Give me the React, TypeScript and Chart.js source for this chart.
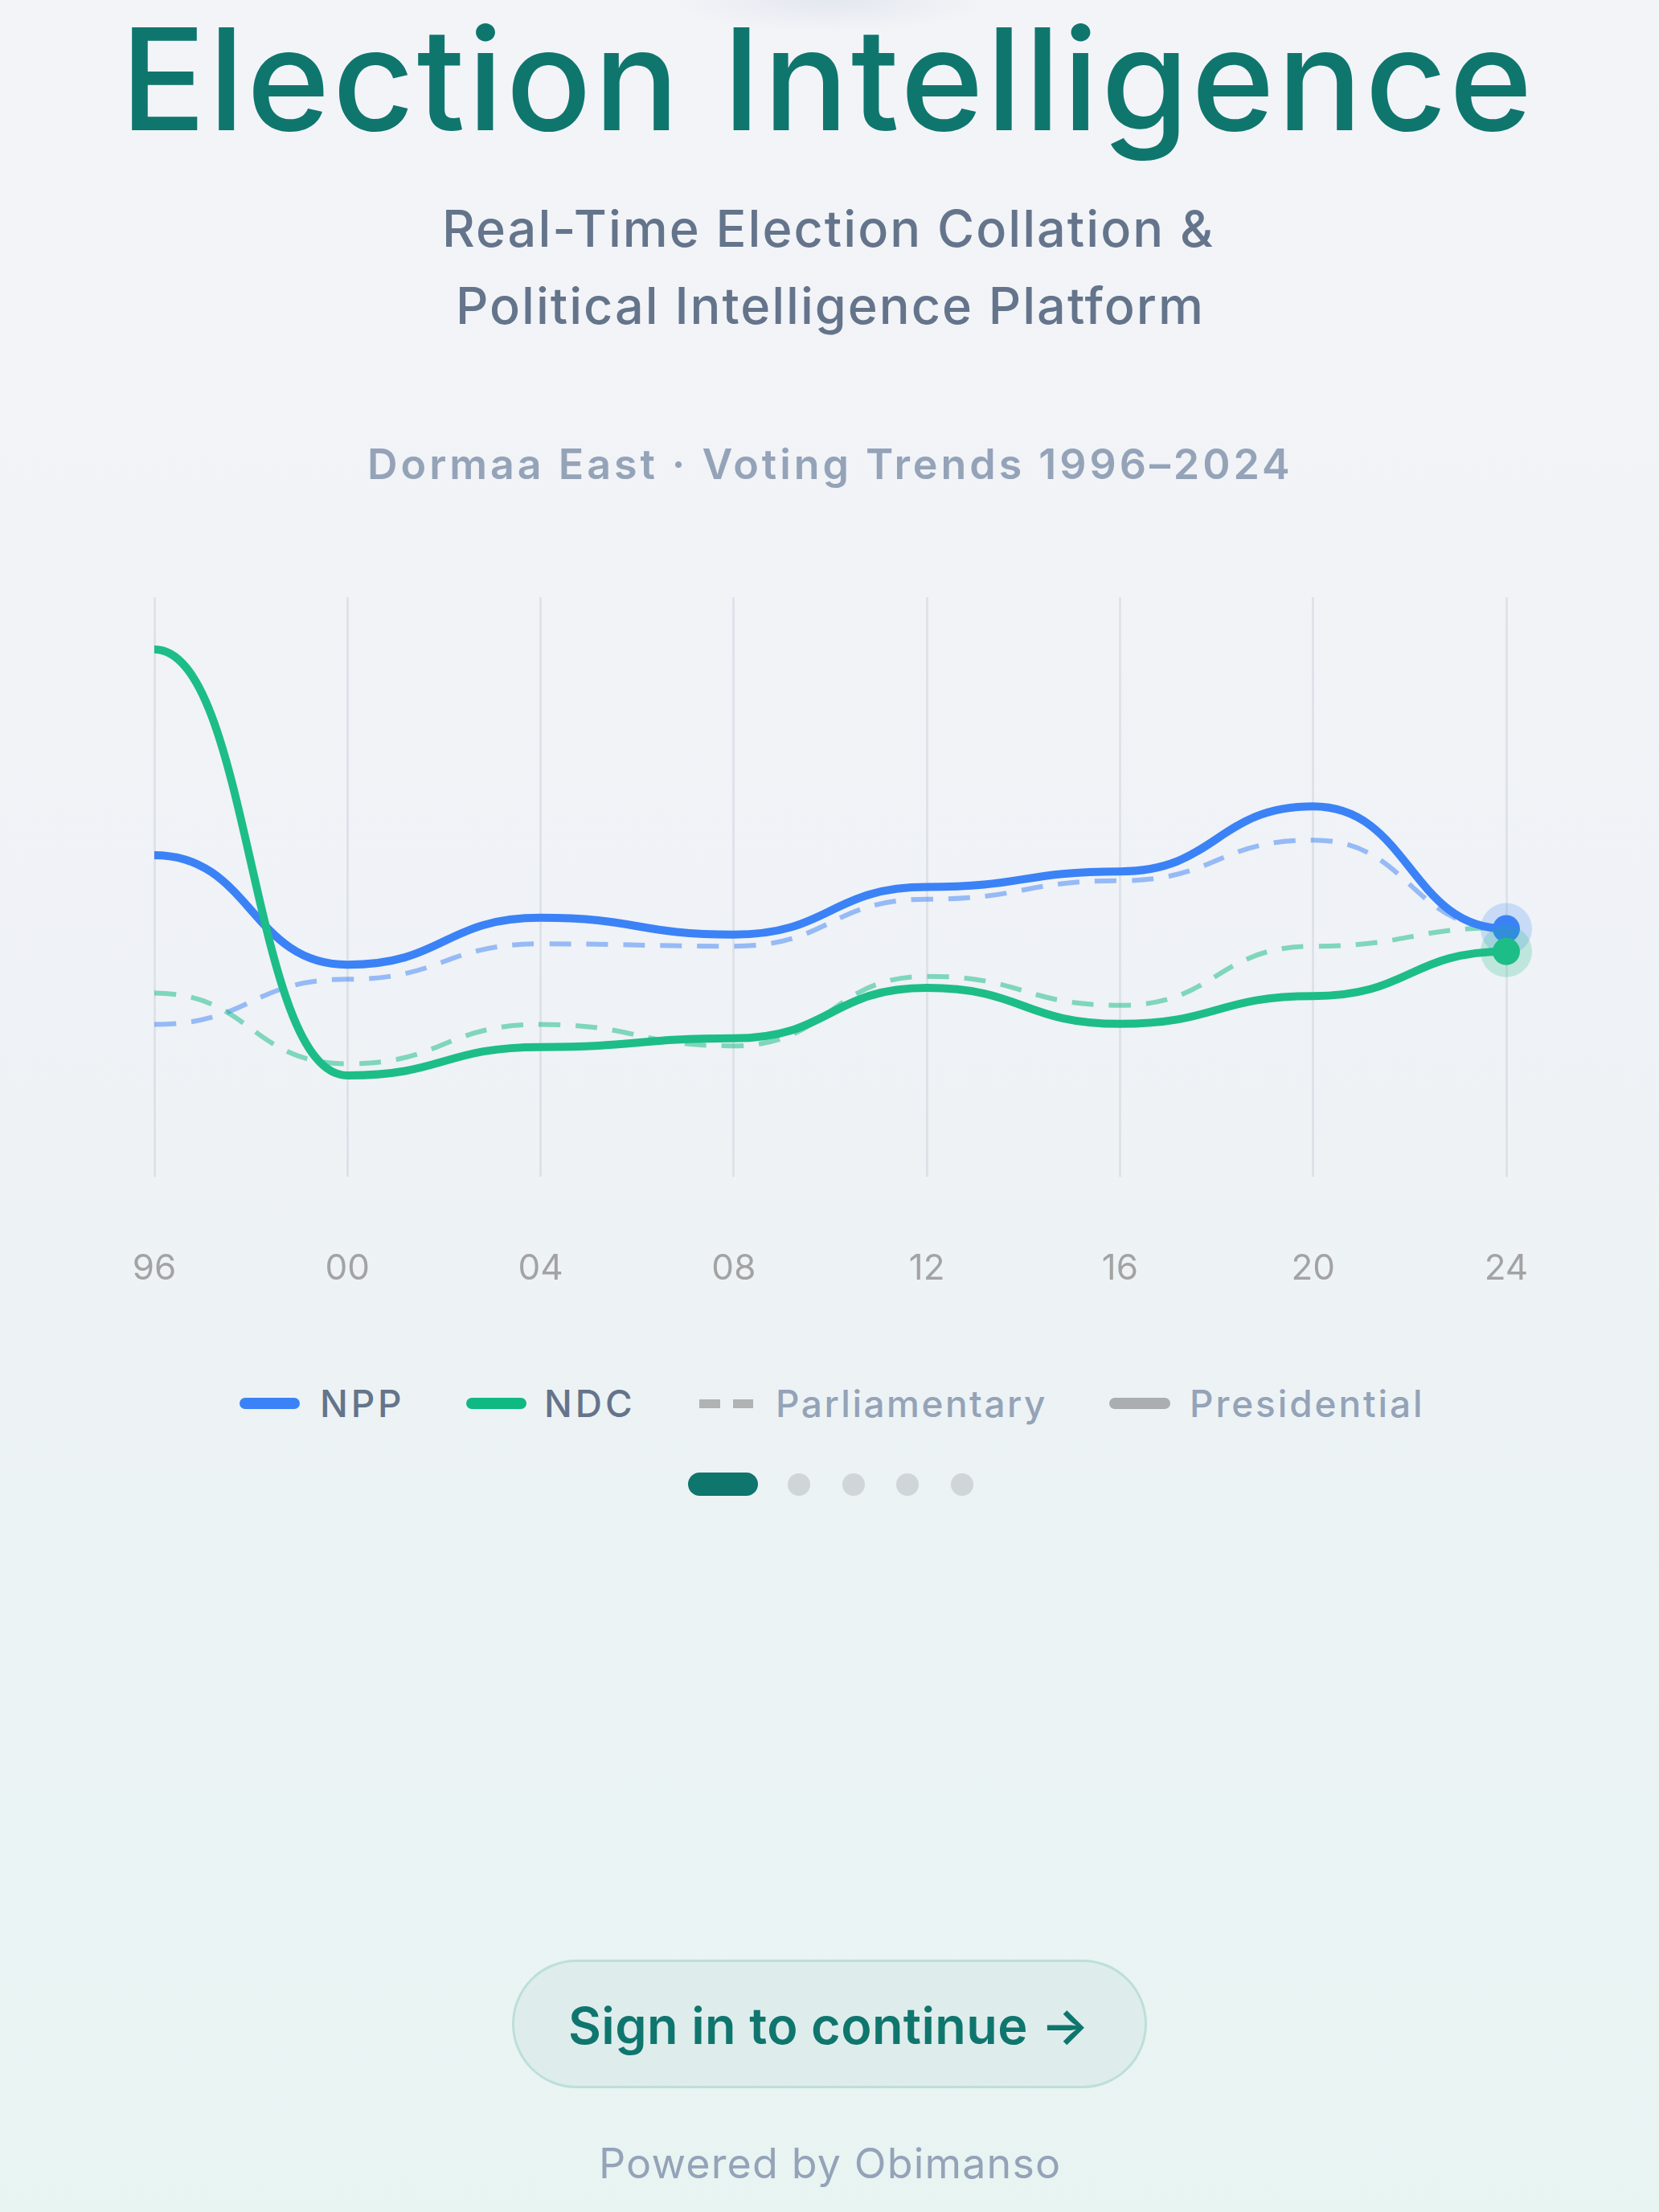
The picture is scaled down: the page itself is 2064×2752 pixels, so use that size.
import React, { useEffect, useLayoutEffect, useRef, useState } from 'react';
import { Chart, registerables } from 'chart.js';

Chart.register(...registerables);

// ---- data (read from the reference) ----
const years = ['96', '00', '04', '08', '12', '16', '20', '24'];
const nppPresidential = [55.5, 36.6, 44.7, 41.8, 50.0, 52.7, 63.9, 42.8];
const ndcPresidential = [91.0, 17.5, 22.4, 23.9, 32.6, 26.4, 31.2, 38.9];
const nppParliamentary = [26.3, 34.1, 40.2, 39.8, 47.9, 51.1, 58.1, 42.8];
const ndcParliamentary = [31.7, 19.5, 26.3, 22.6, 34.6, 29.6, 39.8, 43.0];
const legendLabels = ['NPP', 'NDC', 'Parliamentary', 'Presidential'];

const FONT = 'Inter';

// horizontal tangents at every point (bump-style smoothing)
const bumpPlugin = {
  id: 'bumpCurve',
  beforeDatasetDraw(chart: any, args: any) {
    const meta = args.meta;
    if (!meta || meta.type !== 'line' || !meta.dataset) return;
    const pts = meta.data;
    for (let i = 0; i < pts.length; i++) {
      const p = pts[i];
      const prev = pts[i - 1];
      const next = pts[i + 1];
      p.cp1x = prev ? p.x - (p.x - prev.x) / 2 : p.x;
      p.cp1y = p.y;
      p.cp2x = next ? p.x + (next.x - p.x) / 2 : p.x;
      p.cp2y = p.y;
    }
    meta.dataset._pointsUpdated = true;
    meta.dataset._path = undefined;
  },
};

type TextProps = {
  text: string;
  size: number;
  weight: number;
  color: string;
  left: number;
  right: number;
  baseline: number;
};

function TextAt({ text, size, weight, color, left, right, baseline }: TextProps) {
  const [m, setM] = useState<any>(null);
  useLayoutEffect(() => {
    const ctx = document.createElement('canvas').getContext('2d')!;
    ctx.font = `${weight} ${size}px ${FONT}`;
    const mt = ctx.measureText(text);
    const inkStart = -mt.actualBoundingBoxLeft;
    const inkW = mt.actualBoundingBoxLeft + mt.actualBoundingBoxRight;
    const n = Array.from(text).length;
    const ls = n > 1 ? (right - left - inkW) / (n - 1) : 0;
    setM({
      inkStart,
      ls,
      asc: mt.fontBoundingBoxAscent,
      desc: mt.fontBoundingBoxDescent,
    });
  }, [text, size, weight, left, right]);
  const style: React.CSSProperties = {
    position: 'absolute',
    whiteSpace: 'nowrap',
    fontFamily: FONT,
    fontSize: size,
    fontWeight: weight,
    color,
    lineHeight: `${size}px`,
    visibility: m ? 'visible' : 'hidden',
    left: m ? left - m.inkStart : left,
    top: m ? baseline - ((size - (m.asc + m.desc)) / 2 + m.asc) : baseline - size,
    letterSpacing: m ? m.ls : 0,
  };
  return <div style={style}>{text}</div>;
}

function TrendChart() {
  const ref = useRef<HTMLCanvasElement>(null);
  useEffect(() => {
    const last = years.length - 1;
    const dot = (r: number) => (c: any) => (c.dataIndex === last ? r : 0);
    const chart = new Chart(ref.current!, {
      type: 'line',
      data: {
        labels: years,
        datasets: [
          {
            label: 'NPP Parliamentary',
            data: nppParliamentary,
            borderColor: 'rgba(59,130,246,0.5)',
            borderWidth: 6,
            borderDash: [27, 19],
            pointRadius: 0,
            tension: 0.4,
            fill: false,
            clip: false,
            order: 6,
          },
          {
            label: 'NDC Parliamentary',
            data: ndcParliamentary,
            borderColor: 'rgba(16,185,129,0.5)',
            borderWidth: 6,
            borderDash: [27, 19],
            pointRadius: 0,
            tension: 0.4,
            fill: false,
            clip: false,
            order: 5,
          },
          {
            label: 'NPP halo',
            data: nppPresidential,
            showLine: false,
            pointRadius: dot(32),
            pointBackgroundColor: 'rgba(59,130,246,0.22)',
            pointBorderWidth: 0,
            clip: false,
            order: 4,
          },
          {
            label: 'NPP',
            data: nppPresidential,
            borderColor: '#3b82f6',
            borderWidth: 10,
            pointRadius: dot(17),
            pointBackgroundColor: '#3b82f6',
            pointBorderWidth: 0,
            tension: 0.4,
            fill: false,
            clip: false,
            order: 3,
          },
          {
            label: 'NDC halo',
            data: ndcPresidential,
            showLine: false,
            pointRadius: dot(32),
            pointBackgroundColor: 'rgba(16,185,129,0.22)',
            pointBorderWidth: 0,
            clip: false,
            order: 2,
          },
          {
            label: 'NDC',
            data: ndcPresidential,
            borderColor: '#1dbd87',
            borderWidth: 10,
            pointRadius: dot(17),
            pointBackgroundColor: '#1dbd87',
            pointBorderWidth: 0,
            tension: 0.4,
            fill: false,
            clip: false,
            order: 1,
          },
        ] as any,
      },
      options: {
        animation: false,
        responsive: false,
        devicePixelRatio: 1,
        events: [],
        layout: { padding: { left: 192, right: 190, top: 43, bottom: 19 } },
        plugins: { legend: { display: false }, tooltip: { enabled: false } },
        scales: {
          x: {
            grid: { color: 'rgba(100,116,139,0.12)', lineWidth: 3, drawTicks: false },
            border: { display: false },
            ticks: {
              color: '#a3a3a3',
              font: { family: FONT, size: 44, weight: 400 as any },
              padding: 88,
              maxRotation: 0,
              autoSkip: false,
            },
          },
          y: { display: false, min: 0, max: 100 },
        },
      },
      plugins: [bumpPlugin as any],
    });
    return () => chart.destroy();
  }, []);
  return (
    <canvas
      ref={ref}
      width={2064}
      height={1012}
      style={{ position: 'absolute', left: 0, top: 700, width: 2064, height: 1012 }}
    />
  );
}

export default function App() {
  const swatchBase: React.CSSProperties = { position: 'absolute', height: 14, borderRadius: 7, top: 1739 };
  const pageDots = [994, 1062, 1129, 1197];
  return (
    <div
      style={{
        position: 'absolute',
        left: 0,
        top: 0,
        width: 2064,
        height: 2752,
        overflow: 'hidden',
        background:
          'radial-gradient(ellipse 200px 40px at 1032px 0px, rgba(203,213,225,0.4), rgba(203,213,225,0) 100%), linear-gradient(180deg, #f3f4f8 0%, #eff2f6 45%, #e8f4f2 100%)',
      }}
    >
      <TextAt text="Election Intelligence" size={176} weight={500} color="#0f766e" left={164} right={1899} baseline={162} />
      <TextAt text="Real-Time Election Collation &" size={63} weight={500} color="#64748b" left={555} right={1509} baseline={307} />
      <TextAt text="Political Intelligence Platform" size={63} weight={500} color="#64748b" left={572} right={1493} baseline={403} />
      <TextAt text="Dormaa East · Voting Trends 1996–2024" size={52} weight={600} color="#94a3b8" left={460} right={1603} baseline={596} />

      <TrendChart />

      {/* legend */}
      <div style={{ ...swatchBase, left: 298, width: 75, background: '#3b82f6' }} />
      <TextAt text={legendLabels[0]} size={46} weight={500} color="#64748b" left={401} right={498} baseline={1763} />
      <div style={{ ...swatchBase, left: 580, width: 75, background: '#10b981' }} />
      <TextAt text={legendLabels[1]} size={46} weight={500} color="#64748b" left={680} right={785} baseline={1763} />
      <div style={{ position: 'absolute', left: 870, top: 1741, width: 26, height: 11, background: '#b0b2b4' }} />
      <div style={{ position: 'absolute', left: 912, top: 1741, width: 25, height: 11, background: '#b0b2b4' }} />
      <TextAt text={legendLabels[2]} size={46} weight={500} color="#94a3b8" left={968} right={1300} baseline={1763} />
      <div style={{ ...swatchBase, left: 1380, width: 76, background: '#abaeb0' }} />
      <TextAt text={legendLabels[3]} size={46} weight={500} color="#94a3b8" left={1483} right={1767} baseline={1763} />

      {/* pager */}
      <div style={{ position: 'absolute', left: 856, top: 1832, width: 87, height: 29, borderRadius: 15, background: '#0f766e' }} />
      {pageDots.map((cx) => (
        <div
          key={cx}
          style={{ position: 'absolute', left: cx - 14, top: 1833, width: 28, height: 28, borderRadius: 14, background: '#d0d5d9' }}
        />
      ))}

      {/* button */}
      <div
        style={{
          position: 'absolute',
          left: 637,
          top: 2438,
          width: 790,
          height: 160,
          boxSizing: 'border-box',
          borderRadius: 80,
          border: '3px solid #bddfd9',
          background: 'rgba(15,118,110,0.05)',
        }}
      />
      <TextAt text="Sign in to continue →" size={63} weight={600} color="#0f766e" left={709} right={1349} baseline={2543} />
      <TextAt text="Powered by Obimanso" size={52} weight={400} color="#94a3b8" left={749} right={1317} baseline={2710} />
    </div>
  );
}
